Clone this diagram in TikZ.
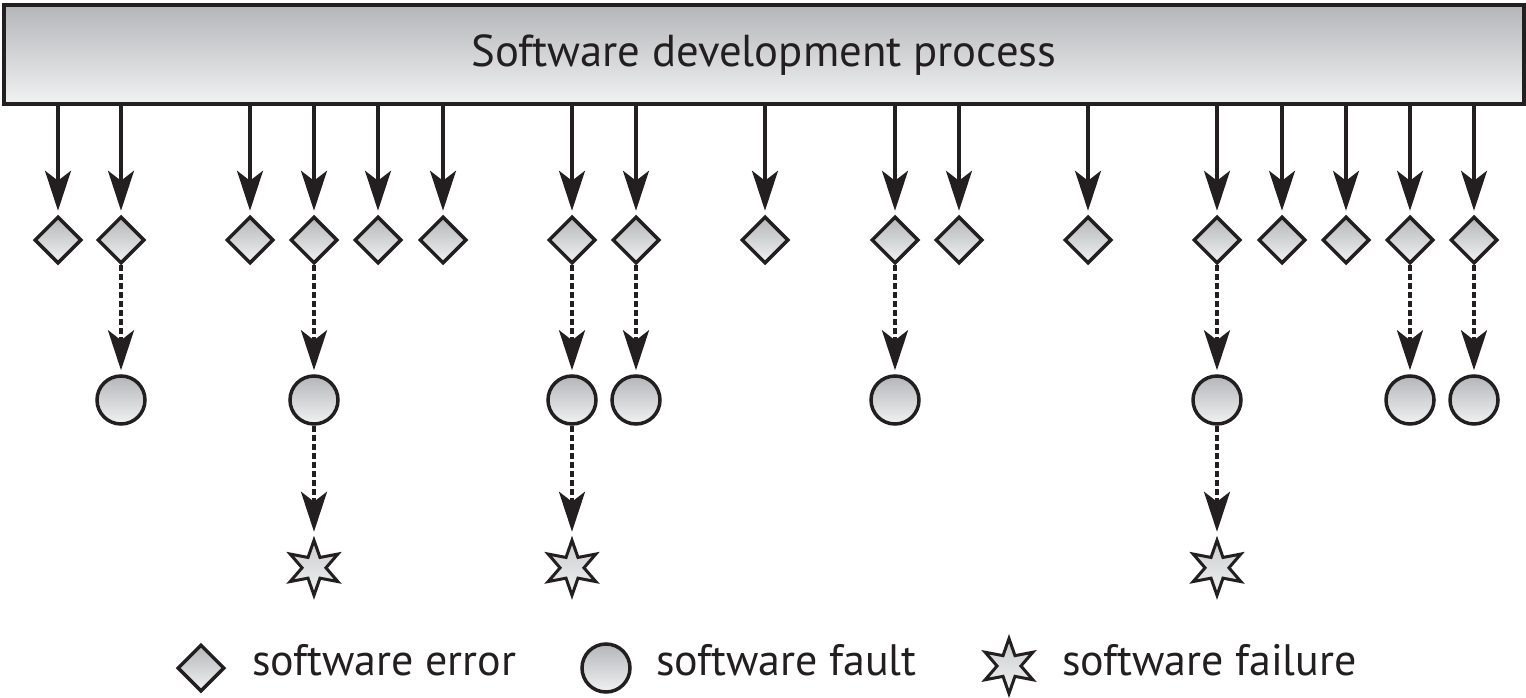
\documentclass[tikz,border=0pt]{standalone}
\usepackage{fontspec}
\setmainfont{PT Sans}
\usepackage{tikz}
\usetikzlibrary{arrows.meta,shapes.geometric,positioning,calc}
\definecolor{sdline}{RGB}{35,31,32}
\definecolor{sdtop}{RGB}{180,182,185}
\definecolor{sdbot}{RGB}{241,242,242}
\tikzstyle{arrow} = [line width=3.2pt,-{Stealth[length=40pt,width=26pt,inset=10pt]},color=sdline,shorten >=4pt]
\tikzstyle{dasharrow} = [arrow, line width=3.8pt, dash pattern=on 6pt off 3pt]
\tikzstyle{shade} = [top color=sdtop, bottom color=sdbot]
\tikzstyle{err} = [diamond, draw=sdline, line width=3.5pt, shade, minimum size=47pt, inner sep=0pt]
\tikzstyle{fault} = [circle, draw=sdline, line width=3.5pt, shade, minimum size=48pt, inner sep=0pt]
\tikzstyle{fail} = [star, star points=6, star point ratio=2.3, draw=sdline, line width=3pt, top color=sdtop!70, bottom color=sdbot, minimum size=55pt, inner sep=0pt]
\tikzstyle{legend} = [anchor=base west, inner sep=0pt, font=\fontsize{44}{48}\selectfont, color=sdline]

\begin{document}
\begin{tikzpicture}[x=1pt, y=-1pt]
    \useasboundingbox (0,0) rectangle (1526,698);

    % Process bar
    \node[draw=sdline, line width=4pt, shade, minimum width=1520pt, minimum height=99pt,
          font=\fontsize{44.7}{50}\selectfont, text=sdline] (proc) at (764,55) {Software development process};

    % Errors
    \foreach \x [count=\i] in {58,121,250,314,378,443,572,636,765,895,959,1088,1217,1282,1346,1410,1474} {
        \node[err] (e\i) at (\x,240) {};
        \draw[arrow] (proc.south -| e\i) -- (e\i.north);
    }

    % Faults
    \foreach \i in {2,4,7,8,10,13,16,17} {
        \node[fault, below=109pt of e\i] (f\i) {};
        \draw[dasharrow] (e\i.south) -- (f\i.north);
    }

    % Failures
    \foreach \i in {4,7,13} {
        \node[fail, below=110pt of f\i] (s\i) {};
        \draw[dasharrow] (f\i.south) -- (s\i.north);
    }

    % Legend
    \node[err] (lerr) at (201,668) {};
    \node[legend] (lerrt) at (252,675) {software error};
    \node[fault] (lfault) at (606,668) {};
    \node[legend] (lfaultt) at (656,675) {software fault};
    \node[fail] (lfail) at (1009,666) {};
    \node[legend] (lfailt) at (1062,675) {software failure};
\end{tikzpicture}
\end{document}
